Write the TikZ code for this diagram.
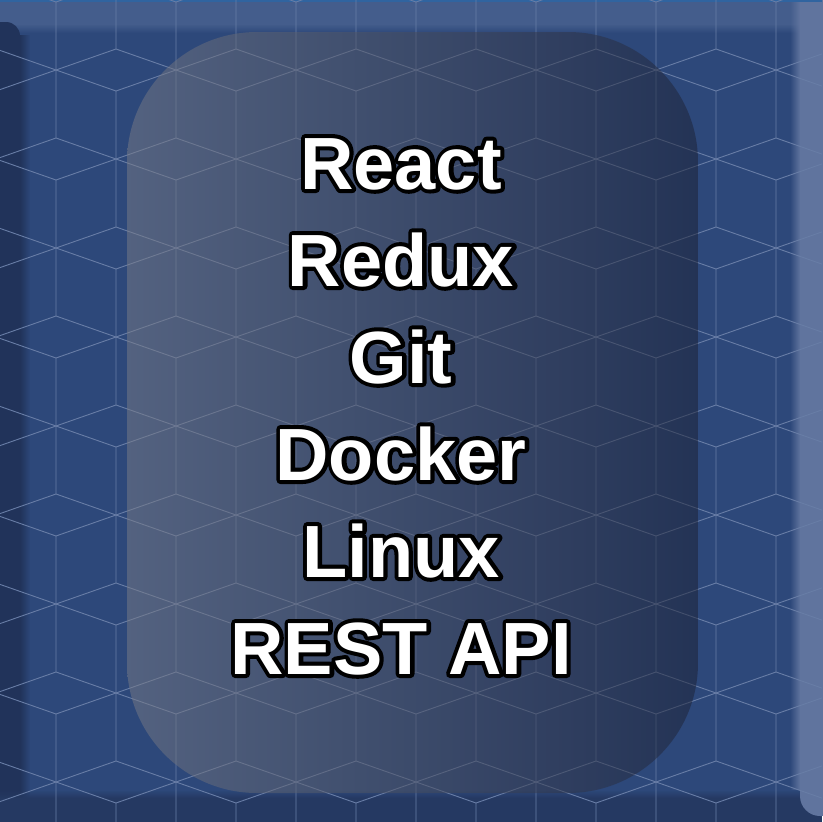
\documentclass[tikz,border=0pt]{standalone}
\usepackage{fontspec}
\newfontfamily\skillfont{Liberation Sans Bold}
\newfontfamily\skillfat[FakeBold=11]{Liberation Sans Bold}
\usetikzlibrary{fadings}
\definecolor{bgbase}{RGB}{45,72,122}
\definecolor{bandtop}{RGB}{68,93,140}
\definecolor{bandleft}{RGB}{33,51,90}
\definecolor{bandright}{RGB}{96,116,158}
\definecolor{bandbottom}{RGB}{37,57,98}
\definecolor{gridcol}{RGB}{104,125,166}
\definecolor{panelL}{RGB}{122,124,134}
\definecolor{panelR}{RGB}{28,32,50}
\definecolor{topline}{RGB}{48,100,160}
\tikzfading[name=fadesouth, top color=transparent!0, bottom color=transparent!100]
\tikzfading[name=fadenorth, top color=transparent!100, bottom color=transparent!0]
\tikzfading[name=fadeeast, left color=transparent!0, right color=transparent!100]
\tikzfading[name=fadewest, left color=transparent!100, right color=transparent!0]
\tikzset{
  gridline/.style={draw=gridcol, line width=0.9pt, line join=miter},
  skill/.style={font={\skillfont\fontsize{74}{80}\selectfont}, text=white, inner sep=0pt, anchor=base},
  skillrim/.style={font={\skillfat\fontsize{74}{80}\selectfont}, text=black, inner sep=0pt, anchor=base, line join=round},
  panel/.style={left color=panelL, right color=panelR, fill opacity=0.5, rounded corners=130pt}
}
\begin{document}
\begin{tikzpicture}[x=1pt,y=-1pt]
\useasboundingbox (0,0) rectangle (822,822);
\fill[bgbase] (0,0) rectangle (822,822);
% bevel bands
\fill[bandtop] (0,0) rectangle (822,24);
\fill[bandtop, path fading=fadesouth] (0,24) rectangle (822,33);
\fill[bandleft, rounded corners=14pt] (-20,22) rectangle (20,842);
\fill[bandleft, path fading=fadeeast] (20,34) rectangle (30,822);
\fill[bandbottom, path fading=fadenorth] (0,790) rectangle (822,798);
\fill[bandbottom] (0,798) rectangle (822,822);
\fill[bandright, path fading=fadewest] (790,0) rectangle (800,790);
\fill[bandright, rounded corners=20pt] (800,-20) rectangle (842,816);
\fill[topline] (0,0) rectangle (822,1.5);
% cube grid
\begin{scope}
\clip (0,0) rectangle (822,822);
\foreach \r in {0,...,10}{
  \pgfmathsetmacro\tt{-40+89*\r}
  \pgfmathsetmacro\cz{56+60*mod(\r,2)}
  \foreach \k in {-1,...,7}{
    \pgfmathsetmacro\cx{\cz+120*\k}
    \draw[gridline] (\cx,\tt) -- (\cx-60,\tt+21) -- (\cx,\tt+42) -- (\cx+60,\tt+21) -- cycle
      (\cx,\tt+42) -- (\cx,\tt+110)
      (\cx-60,\tt+21) -- (\cx-60,\tt+89);
  }
}
\end{scope}
% panel
\shade[panel] (127,32) rectangle (698,793);
% texts: black emboldened rim, then white face
\begin{scope}[line join=round]
\foreach \nm/\yy/\tx in {react/189/React, redux/286/Redux, git/383/Git, docker/480/Docker, linux/577/Linux, rest/674/REST API}{
  \node[skillrim] (\nm rim) at (401,\yy) {\tx};
  \node[skill] (\nm) at (401,\yy) {\tx};
}
\end{scope}
\end{tikzpicture}
\end{document}
